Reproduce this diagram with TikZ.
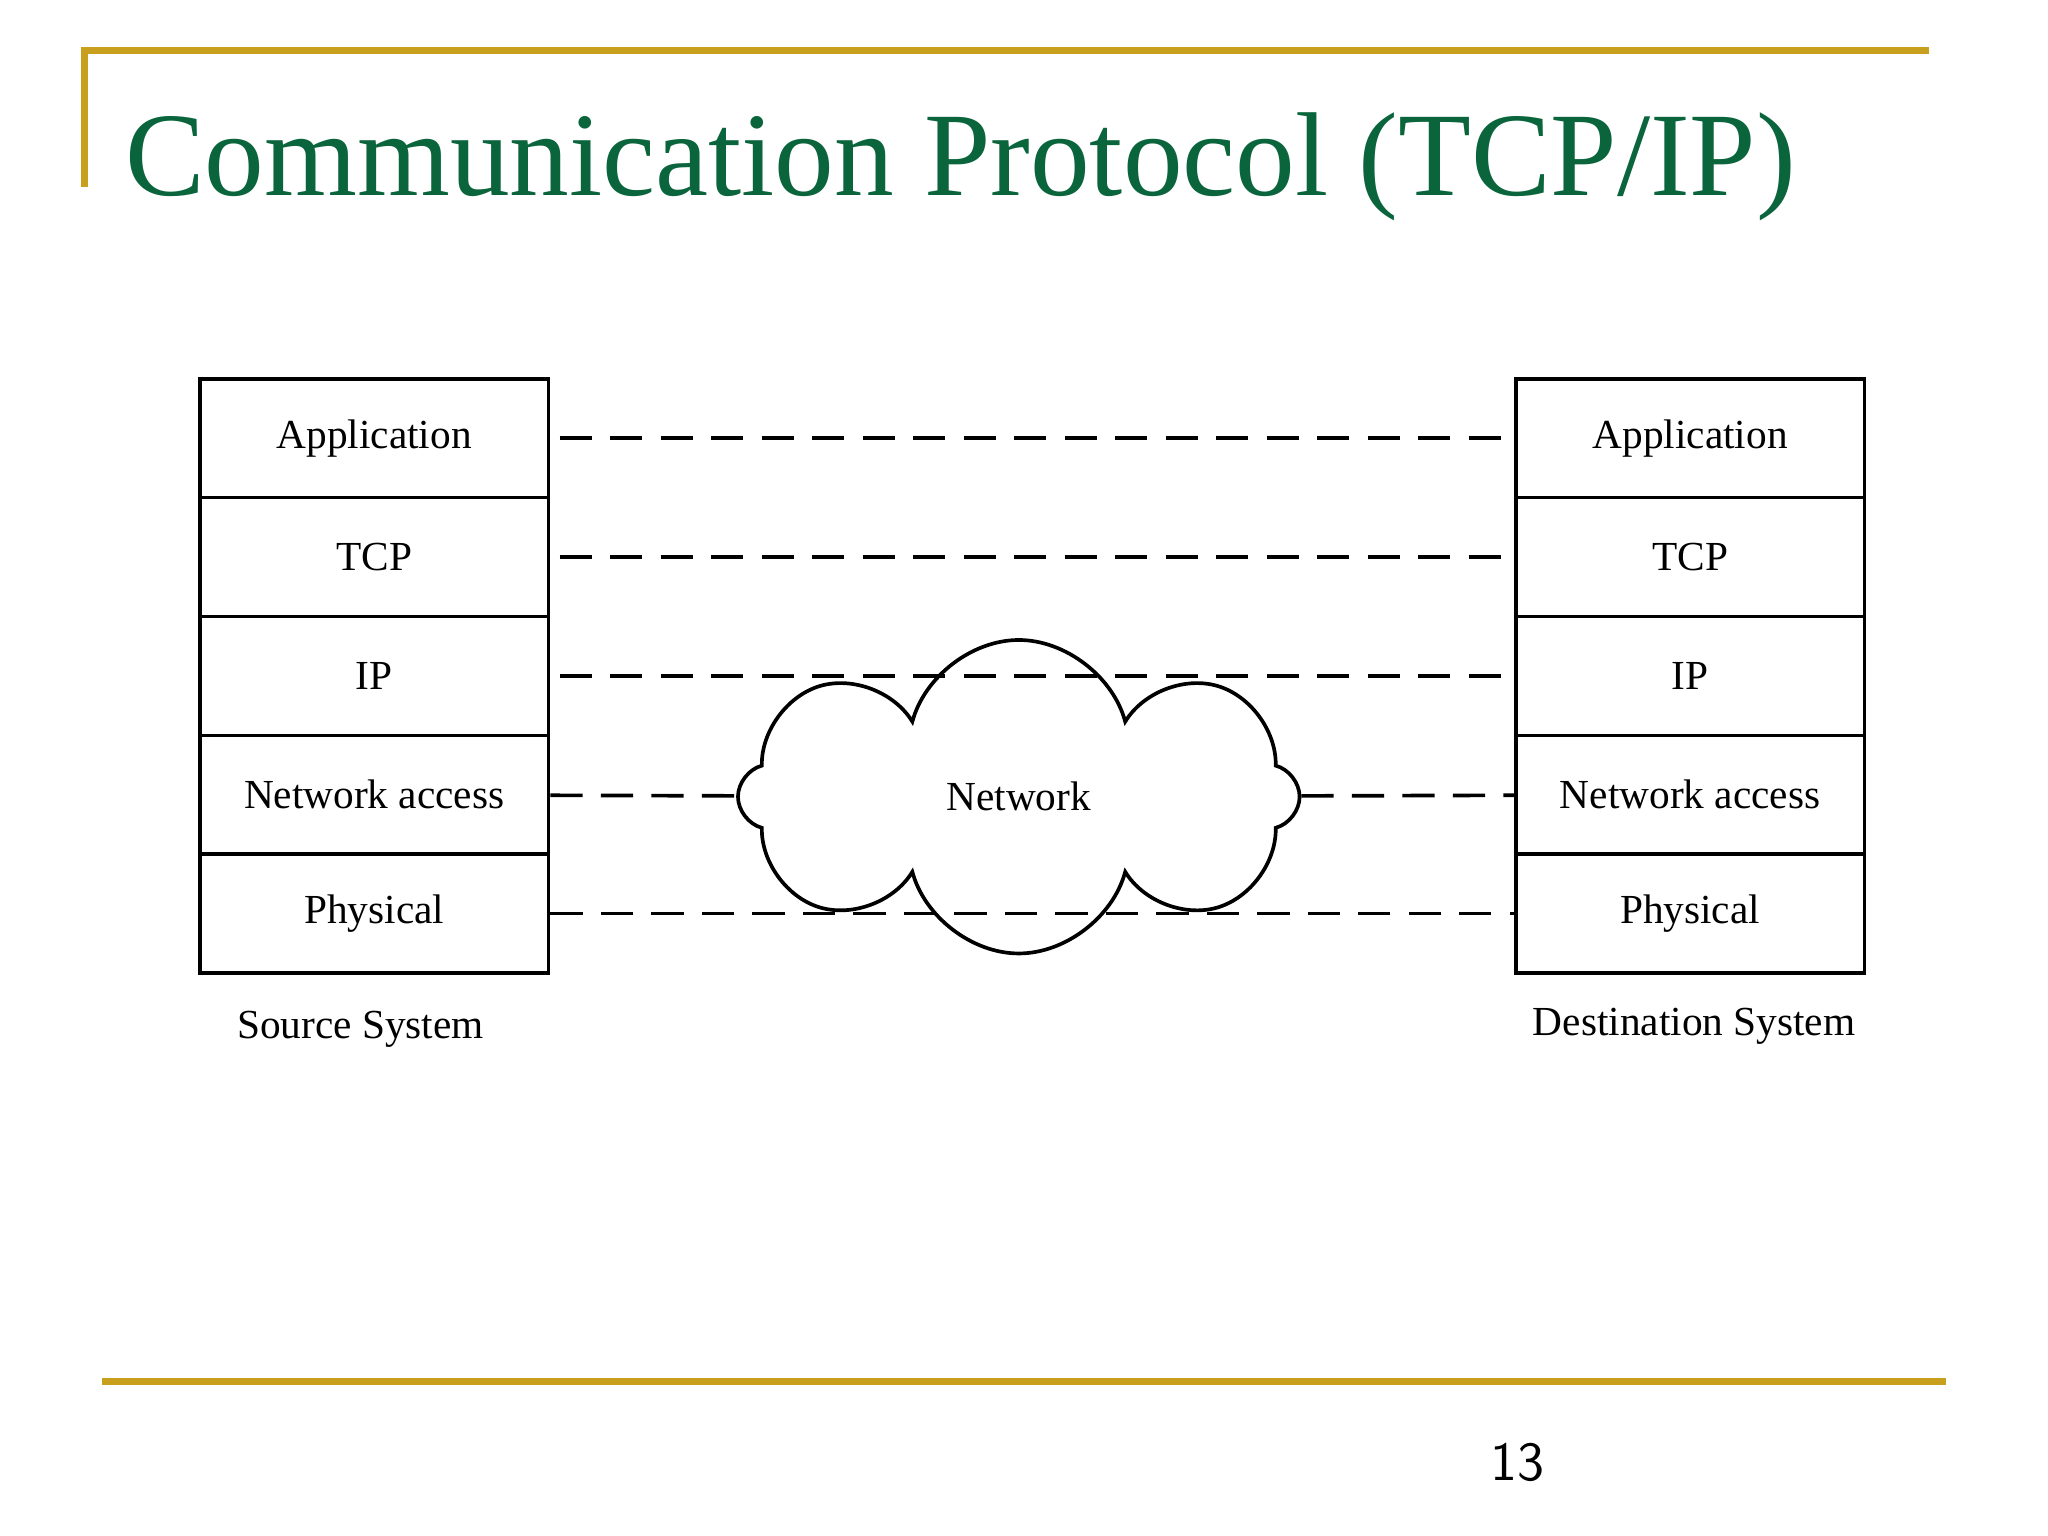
\documentclass[tikz,border=0pt]{standalone}
\usepackage{fontspec}
\setmainfont{Liberation Serif}
\usetikzlibrary{shapes.symbols}
\definecolor{gold}{RGB}{200,160,30}
\definecolor{titlegreen}{RGB}{10,100,60}
\begin{document}
\begin{tikzpicture}[layer/.style={draw, thick, minimum width=2.67cm, minimum height=0.91cm, font=\fontsize{9}{11}\selectfont},
    link/.style={dashed, thick, dash pattern=on 7pt off 4pt}]
    \useasboundingbox (0,0) rectangle (15.68,-11.76);

    % frame and title
    \draw [gold, line width=1.5pt] (0.65,-1.43) -- (0.65,-0.39) -- (14.77,-0.39);
    \draw [gold, line width=1.5pt] (0.78,-10.58) -- (14.9,-10.58);
    \node [anchor=base west, text=titlegreen, font=\fontsize{26}{30}\selectfont, inner sep=0] (title) at (0.95,-1.5) {Communication Protocol (TCP/IP)};
    \node [font=\sffamily\fontsize{12}{14}\selectfont] (page) at (11.62,-11.2) {13};

    % network cloud
    \node [draw, thick, cloud, cloud puffs=8, aspect=1.8, fill=white, minimum width=4.3cm, minimum height=2.4cm, font=\fontsize{9}{11}\selectfont] (net) at (7.8,-6.1) {Network};

    % the two stacks
    \foreach \n/\t [count=\i] in {app/Application, tcp/TCP, ip/IP, acc/Network access, phy/Physical} {
        \node [layer] (s\n) at (2.865, -3.355-0.91*\i+0.91) {\t};
        \node [layer] (d\n) at (12.94, -3.355-0.91*\i+0.91) {\t};
    }
    \node [font=\fontsize{9}{11}\selectfont] (src) at (2.76,-7.88) {Source System};
    \node [font=\fontsize{9}{11}\selectfont] (dst) at (12.97,-7.86) {Destination System};

    % peer links
    \draw [link, shorten <=2pt] (sapp) -- (dapp);
    \draw [link, shorten <=2pt] (stcp) -- (dtcp);
    \draw [link, shorten <=2pt] (sip) -- (dip);
    \draw [link] (sacc) -- (net);
    \draw [link] (net) -- (dacc);
    \draw [link] (sphy) -- (dphy);
\end{tikzpicture}
\end{document}
